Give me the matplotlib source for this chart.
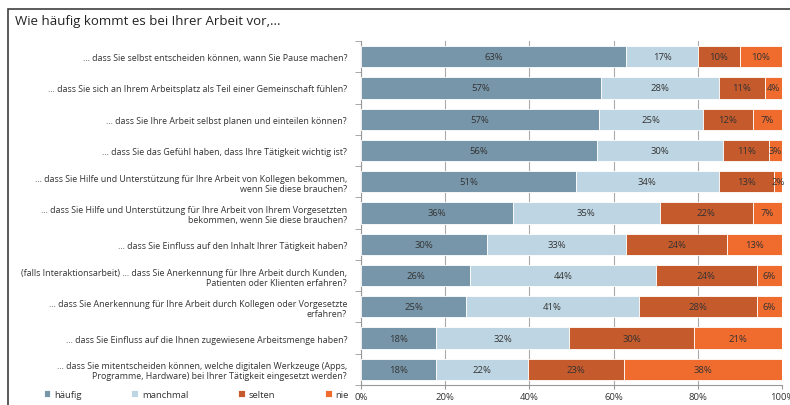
import numpy as np
import matplotlib.pyplot as plt
from matplotlib.patches import Rectangle

questions = [
    "… dass Sie selbst entscheiden können, wann Sie Pause machen?",
    "… dass Sie sich an Ihrem Arbeitsplatz als Teil einer Gemeinschaft fühlen?",
    "… dass Sie Ihre Arbeit selbst planen und einteilen können?",
    "… dass Sie das Gefühl haben, dass Ihre Tätigkeit wichtig ist?",
    "… dass Sie Hilfe und Unterstützung für Ihre Arbeit von Kollegen bekommen,\nwenn Sie diese brauchen?",
    "… dass Sie Hilfe und Unterstützung für Ihre Arbeit von Ihrem Vorgesetzten\nbekommen, wenn Sie diese brauchen?",
    "… dass Sie Einfluss auf den Inhalt Ihrer Tätigkeit haben?",
    "(falls Interaktionsarbeit) … dass Sie Anerkennung für Ihre Arbeit durch Kunden,\nPatienten oder Klienten erfahren?",
    "… dass Sie Anerkennung für Ihre Arbeit durch Kollegen oder Vorgesetzte\nerfahren?",
    "… dass Sie Einfluss auf die Ihnen zugewiesene Arbeitsmenge haben?",
    "… dass Sie mitentscheiden können, welche digitalen Werkzeuge (Apps,\nProgramme, Hardware) bei Ihrer Tätigkeit eingesetzt werden?",
]
categories = ["häufig", "manchmal", "selten", "nie"]
haeufig = [63, 57, 57, 56, 51, 36, 30, 26, 25, 18, 18]
manchmal = [17, 28, 25, 30, 34, 35, 33, 44, 41, 32, 22]
selten = [10, 11, 12, 11, 13, 22, 24, 24, 28, 30, 23]
nie = [10, 4, 7, 3, 2, 7, 13, 6, 6, 21, 38]
colors = ["#7896a9", "#bed6e3", "#c55a2c", "#f06b2e"]

plt.rcParams["font.family"] = ["Open Sans", "DejaVu Sans"]

# 100% gestapelt: Anteile je Zeile normieren
data = np.array([haeufig, manchmal, selten, nie], dtype=float)
shares = data / data.sum(axis=0) * 100

fig = plt.figure(figsize=(7.9, 4.06), dpi=100)
fig.patches.append(Rectangle((8 / 790, -0.1), 1.0, 1 - 10 / 406 + 0.1,
                             transform=fig.transFigure, fill=False,
                             edgecolor="#404040", linewidth=1.2))
fig.text(15 / 790, 1 - 22 / 406, "Wie häufig kommt es bei Ihrer Arbeit vor,...",
         fontsize=9.5, color="#222222", va="center")

ax = fig.add_axes([361 / 790, 1 - 386 / 406, 421 / 790, 344 / 406])
y = np.arange(len(questions))
left = np.zeros(len(questions))
for i, cat in enumerate(categories):
    bars = ax.barh(y, shares[i], left=left, height=0.68, color=colors[i],
                   edgecolor="white", linewidth=0.6, label=cat, zorder=3)
    for j, b in enumerate(bars):
        ax.text(left[j] + shares[i][j] / 2, y[j], f"{int(data[i][j])}%",
                ha="center", va="center", fontsize=6.8, color="#333333", zorder=4)
    left += shares[i]

ax.set_xlim(0, 100)
ax.set_ylim(len(questions) - 0.5, -0.5)
ax.set_yticks(y)
ax.set_yticklabels(questions, fontsize=6.4, color="#333333", linespacing=1.15)
ax.set_yticks(np.arange(-0.5, len(questions), 1), minor=True)
ax.tick_params(axis="y", which="major", length=0, pad=10)
ax.tick_params(axis="y", which="minor", length=4, color="#999999")
ax.set_xticks([0, 20, 40, 60, 80, 100])
ax.set_xticklabels(["0%", "20%", "40%", "60%", "80%", "100%"], fontsize=6.8, color="#333333")
ax.tick_params(axis="x", length=3, color="#999999", pad=2)
ax.grid(axis="x", color="#aaaaaa", linewidth=0.8, zorder=0)
for s in ["top", "right"]:
    ax.spines[s].set_visible(False)
for s in ["left", "bottom"]:
    ax.spines[s].set_color("#999999")

fig.legend(loc="lower left", bbox_to_anchor=(35 / 790, -0.005), ncol=4, frameon=False,
           fontsize=6.8, handlelength=0.7, handleheight=0.7, handletextpad=0.4,
           columnspacing=5.3, labelcolor="#333333")

fig.savefig("out.png", dpi=100)
